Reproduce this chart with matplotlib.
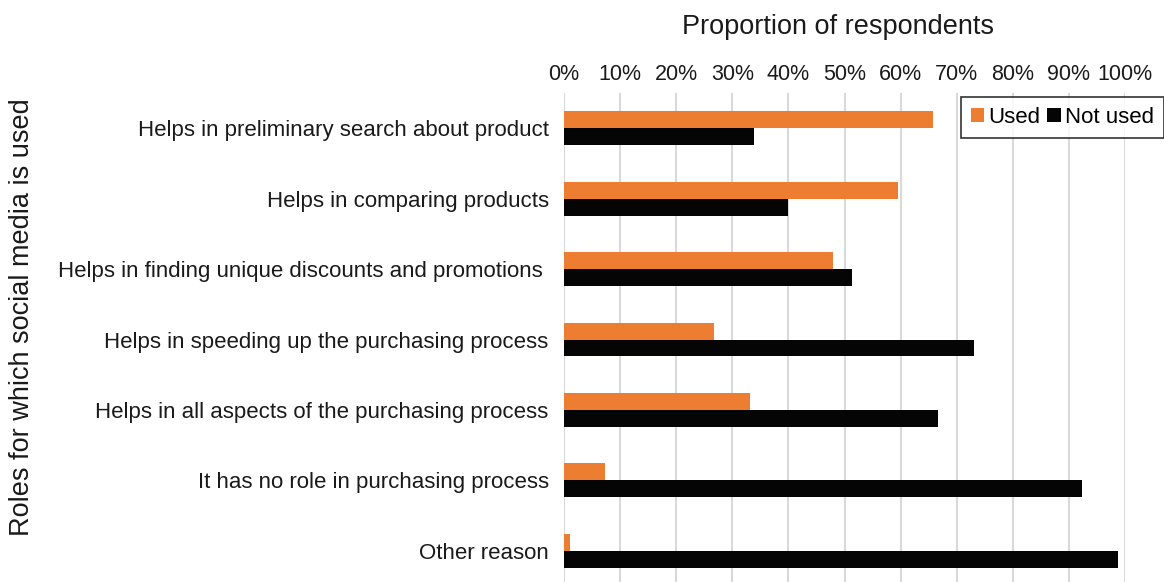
import matplotlib
matplotlib.use("Agg")
import matplotlib.pyplot as plt
import numpy as np
from matplotlib.patches import Patch

plt.rcParams['font.family'] = ['Liberation Sans', 'DejaVu Sans']

roles = [
    "Helps in preliminary search about product",
    "Helps in comparing products",
    "Helps in finding unique discounts and promotions ",
    "Helps in speeding up the purchasing process",
    "Helps in all aspects of the purchasing process",
    "It has no role in purchasing process",
    "Other reason",
]
used = [65.7, 59.5, 48.0, 26.8, 33.1, 7.3, 1.1]
not_used = [33.9, 40.0, 51.4, 73.1, 66.6, 92.4, 98.7]
x_ticks = list(range(0, 101, 10))
x_tick_labels = [f"{t}%" for t in x_ticks]

W, H = 1164, 582
fig = plt.figure(figsize=(W / 100, H / 100), dpi=100)
ax = fig.add_axes([564 / W, -4 / H, (1125 - 564) / W, (582 - 93 + 4) / H])

y = np.arange(len(roles))
h = 0.24
ax.barh(y - h / 2, used, height=h, color="#ED7D31", label="Used", zorder=3)
ax.barh(y + h / 2, not_used, height=h, color="#050505", label="Not used", zorder=3)

ax.set_ylim(len(roles) - 0.5, -0.5)
ax.set_xlim(0, 100)
ax.set_yticks(y)
ax.set_yticklabels(roles, fontsize=16, color="#1a1a1a")
ax.xaxis.tick_top()
ax.set_xticks(x_ticks)
ax.set_xticklabels(x_tick_labels, fontsize=15.5, color="#1a1a1a")
ax.tick_params(axis="y", length=0, pad=11)
ax.tick_params(axis="x", length=0, pad=6)
ax.grid(axis="x", color="#D9D9D9", linewidth=1.5, zorder=0)
for s in ax.spines.values():
    s.set_visible(False)

fig.text(838 / W, 1 - 27 / H, "Proportion of respondents", ha="center", va="center",
         fontsize=19.5, color="#1a1a1a")
fig.text(22 / W, 1 - 317 / H, "Roles for which social media is used", ha="center",
         va="center", rotation=90, fontsize=19.5, color="#1a1a1a")

handles = [Patch(facecolor="#ED7D31"), Patch(facecolor="#050505")]
leg = fig.legend(handles, ["Used", "Not used"], loc="upper right",
                 bbox_to_anchor=(1164 / W, 1 - 97 / H), ncol=2, fontsize=16,
                 frameon=True, fancybox=False, edgecolor="black",
                 handlelength=0.6, handleheight=0.6, handletextpad=0.2,
                 columnspacing=0.3, borderpad=0.45, borderaxespad=0)
leg.get_frame().set_linewidth(1.2)

fig.savefig("out.png", dpi=100)
